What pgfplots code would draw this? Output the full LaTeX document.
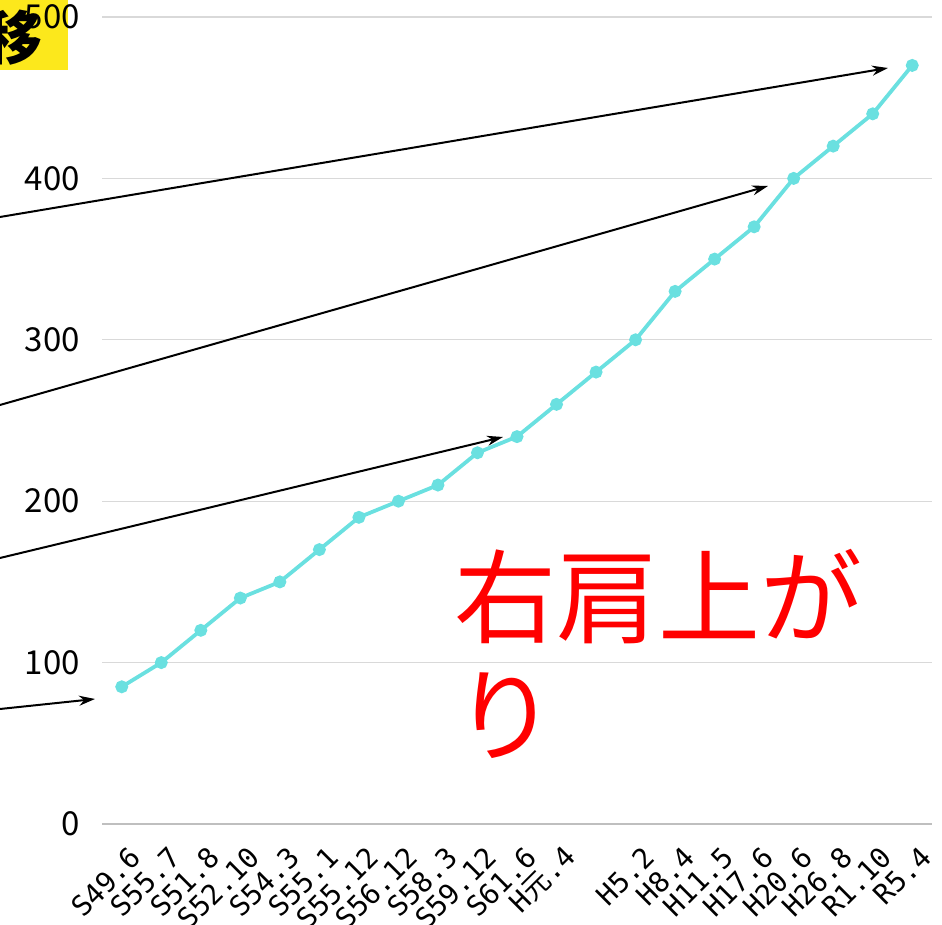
\documentclass[border=0pt]{standalone}
\usepackage{fontspec}
\setmainfont{Noto Sans CJK JP}
\newfontfamily\monofont{DejaVu Sans Mono}
\newfontfamily\cjk{Noto Sans CJK JP}
\usepackage{pgfplots}
\pgfplotsset{compat=1.18}
\usetikzlibrary{arrows.meta}
\definecolor{lcyan}{HTML}{6AE0E0}
\definecolor{ggrid}{HTML}{D9D9D9}
\definecolor{gaxis}{HTML}{BFBFBF}
\definecolor{tyellow}{HTML}{FCE81C}
\definecolor{rred}{HTML}{FF0000}

\begin{document}
\begin{tikzpicture}
  \useasboundingbox (0pt,0pt) rectangle (942pt,925pt);
  \clip (0pt,0pt) rectangle (942pt,925pt);
  % title box, cut off at the left
  \fill[tyellow] (0pt,855pt) rectangle (68pt,925pt);
  \node[anchor=north east, inner sep=0pt, font=\fontsize{58}{58}\selectfont\bfseries] at (43pt,915pt) {移};

  \begin{axis}[
      at={(102pt,101pt)}, anchor=south west,
      scale only axis,
      width=830pt, height=807pt,
      xmin=-0.5, xmax=20.5,
      ymin=0, ymax=500,
      ytick={0,100,...,500},
      xtick={0,...,20},
      xticklabels={S49.6,S55.7,S51.8,S52.10,S54.3,S55.1,S55.12,S56.12,S58.3,S59.12,S61.6,H{\cjk 元}.4,,H5.2,H8.4,H11.5,H17.6,H20.6,H26.8,R1.10,R5.4},
      major tick length=0pt,
      ymajorgrids,
      grid style={draw=ggrid, line width=1.3pt},
      axis x line*=bottom,
      axis y line*=left,
      x axis line style={draw=gaxis, line width=2pt},
      y axis line style={draw=none},
      /pgf/number format/assume math mode=true,
      yticklabel style={font=\fontsize{33}{33}\selectfont, inner sep=0pt, xshift=-22pt},
      xticklabel style={xshift=14pt, yshift=-28pt, font=\fontsize{28}{28}\selectfont\monofont, rotate=45, anchor=east, inner sep=0pt},
      clip=false,
    ]
    \addplot[lcyan, line width=3.8pt, mark=*, mark size=4.5pt, mark options={fill=lcyan, draw=lcyan}]
      coordinates {(0,85) (1,100) (2,120) (3,140) (4,150) (5,170) (6,190) (7,200) (8,210) (9,230) (10,240)
                   (11,260) (12,280) (13,300) (14,330) (15,350) (16,370) (17,400) (18,420) (19,440) (20,470)};
  \end{axis}

  % arrows from the (cut off) notes at the left
  \begin{scope}[line width=2pt, -{Stealth[length=16pt,width=10pt]}]
    \draw (0pt,708pt) -- (888pt,857pt);
    \draw (0pt,520pt) -- (768pt,739pt);
    \draw (0pt,367pt) -- (503pt,488pt);
    \draw (0pt,216pt) -- (95pt,226pt);
  \end{scope}

  \node[anchor=north west, inner sep=0pt, text=rred, align=left,
        font=\fontsize{102}{118}\selectfont] at (454pt,376pt) {右肩上が\\り};
\end{tikzpicture}
\end{document}
